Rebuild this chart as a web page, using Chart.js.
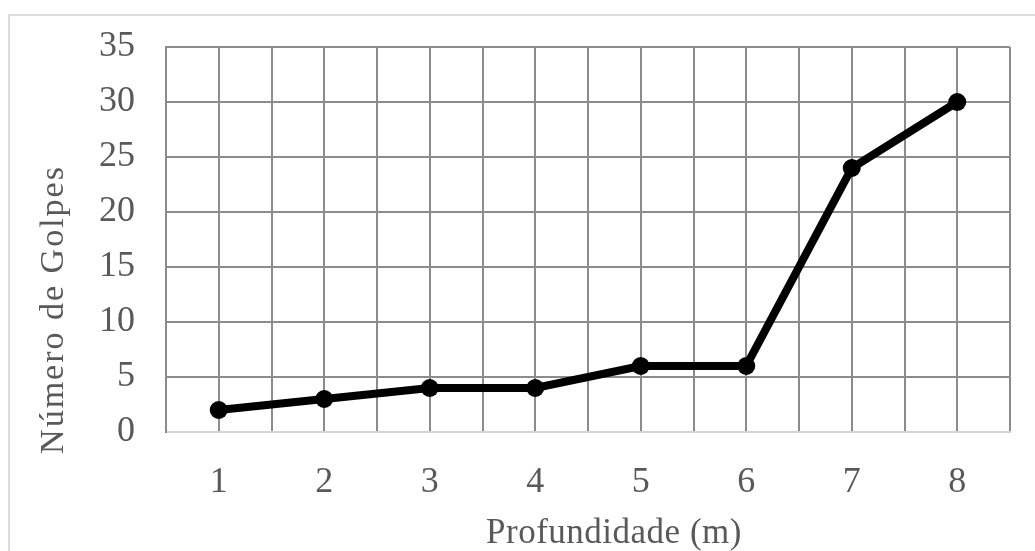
<!DOCTYPE html>
<html>
<head>
<meta charset="utf-8">
<script src="https://cdn.jsdelivr.net/npm/chart.js@4"></script>
<style>
  html, body { margin: 0; padding: 0; background: #fff; overflow: hidden; }
  #frame {
    position: absolute; left: 8px; top: 14px; width: 1060px; height: 560px;
    border: 2px solid #dcdcdc; box-sizing: border-box;
  }
  #wrap { position: absolute; left: 0; top: 0; width: 1035px; height: 551px; }
</style>
</head>
<body>
<div id="frame"></div>
<div id="wrap"><canvas id="c" width="1035" height="551"></canvas></div>
<script>
// Depth (m) of each SPT reading and the blow count recorded there
const depths = [1, 2, 3, 4, 5, 6, 7, 8];
const golpes = [2, 3, 4, 4, 6, 6, 24, 30];
// Axis ranges
const yMin = 0, yMax = 35, yStep = 5;
const xMin = 0.5, xMax = 8.5, xStep = 0.5;
// Axis titles
const xTitle = 'Profundidade (m)';
const yTitle = 'Número de Golpes';

const textColor = '#595959';
const gridColor = '#8c8c8c';
const fontFamily = "'Liberation Serif', 'Times New Roman', serif";

const points = depths.map((d, i) => ({ x: d, y: golpes[i] }));

// Draws both axis titles beside the plot area
const axisTitles = {
  id: 'axisTitles',
  afterDraw(chart) {
    const { ctx, chartArea: a } = chart;
    ctx.save();
    ctx.fillStyle = textColor;
    ctx.textAlign = 'center';
    ctx.textBaseline = 'alphabetic';

    ctx.font = `35px ${fontFamily}`;
    ctx.letterSpacing = '0.5px';
    ctx.fillText(xTitle, (a.left + a.right) / 2 + 26, a.bottom + 111);

    ctx.font = `34px ${fontFamily}`;
    ctx.letterSpacing = '2px';
    ctx.translate(a.left - 103, (a.top + a.bottom) / 2 + 70);
    ctx.rotate(-Math.PI / 2);
    ctx.fillText(yTitle, 0, 0);
    ctx.restore();
  }
};

new Chart(document.getElementById('c'), {
  type: 'line',
  data: {
    datasets: [{
      data: points,
      borderColor: '#000',
      backgroundColor: '#000',
      borderWidth: 8,
      pointRadius: 9,
      pointHoverRadius: 9,
      pointBorderWidth: 0,
      tension: 0,
      fill: false
    }]
  },
  options: {
    responsive: false,
    animation: false,
    layout: { autoPadding: false, padding: { top: 47, right: 25, bottom: 0, left: 0 } },
    plugins: { legend: { display: false }, tooltip: { enabled: false } },
    scales: {
      x: {
        type: 'linear',
        min: xMin,
        max: xMax,
        // fixed axis band; labels never push the plot edges
        afterFit: s => { s.height = 119; s.paddingLeft = 0; s.paddingRight = 0; },
        ticks: {
          stepSize: xStep,
          autoSkip: false,
          maxRotation: 0,
          padding: 29,
          color: textColor,
          font: { family: fontFamily, size: 36 },
          callback: v => Number.isInteger(v) ? String(v) : ''
        },
        grid: { color: gridColor, lineWidth: 2, drawTicks: false },
        border: { color: '#d4d4d4', width: 2 }
      },
      y: {
        min: yMin,
        max: yMax,
        afterFit: s => { s.width = 166; s.paddingTop = 0; s.paddingBottom = 0; },
        ticks: {
          stepSize: yStep,
          padding: 31,
          color: textColor,
          font: { family: fontFamily, size: 36 }
        },
        grid: {
          color: c => c.tick && c.tick.value === 0 ? '#d4d4d4' : gridColor,
          lineWidth: 2,
          drawTicks: false
        },
        border: { color: gridColor, width: 2 }
      }
    }
  },
  plugins: [axisTitles]
});
</script>
</body>
</html>
